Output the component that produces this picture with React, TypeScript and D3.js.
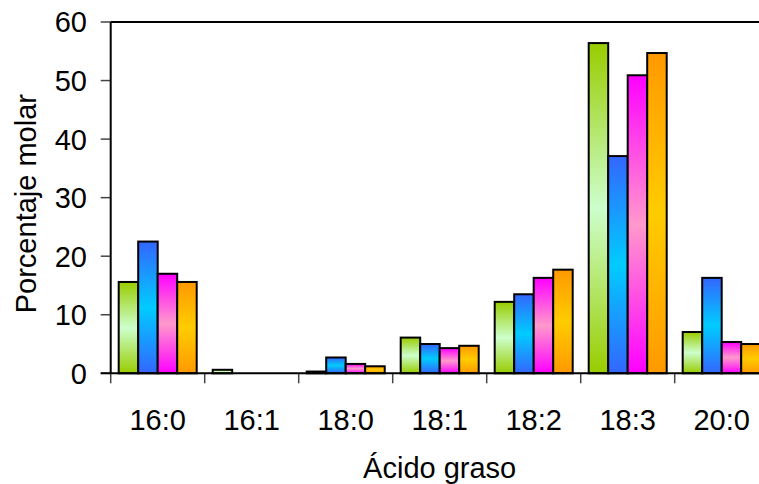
import React, { useEffect, useRef } from "react";
import * as d3 from "d3";

const categories = ["16:0", "16:1", "18:0", "18:1", "18:2", "18:3", "20:0"];
const seriesNames = ["s1", "s2", "s3", "s4"];
const greenVals = [15.6, 0.6, 0.3, 6.1, 12.2, 56.4, 7.05];
const blueVals = [22.5, 0, 2.7, 5.0, 13.5, 37.1, 16.3];
const pinkVals = [17.0, 0, 1.6, 4.3, 16.3, 50.9, 5.35];
const orangeVals = [15.6, 0, 1.2, 4.7, 17.7, 54.7, 5.0];
const yTicks = [0, 10, 20, 30, 40, 50, 60];

// gradient stops: [edge colour, middle colour]
const gradients = [
  ["#99cc00", "#ccffcc"],
  ["#3366ff", "#00ccff"],
  ["#ff00ff", "#ff99cc"],
  ["#ff9900", "#ffcc00"],
];

export default function App() {
  const svgRef = useRef<SVGSVGElement | null>(null);

  useEffect(() => {
    const svg = svgRef.current;
    if (!svg) return;
    const W = 759;
    const H = 484;
    const M = { l: 110.7, t: 22, b: 373.3 };
    const step = 94;

    const sel = d3.select(svg);
    sel.selectAll("*").remove();

    const values = [greenVals, blueVals, pinkVals, orangeVals];
    const rows = categories.map((c, i) => ({
      cat: c,
      vals: values.map((v, k) => ({ key: seriesNames[k], k, v: v[i] })),
    }));

    const x = d3
      .scaleBand<string>()
      .domain(categories)
      .range([M.l, M.l + step * categories.length])
      .padding(0);
    const xi = d3
      .scaleBand<string>()
      .domain(seriesNames)
      .range([0, x.bandwidth()])
      .paddingInner(0)
      .paddingOuter(0.41);
    const y = d3.scaleLinear().domain([0, 60]).range([M.b, M.t]);

    const defs = sel.append("defs");
    gradients.forEach(([edge, mid], k) => {
      const g = defs
        .append("linearGradient")
        .attr("id", `grad${k}`)
        .attr("x1", 0)
        .attr("y1", 0)
        .attr("x2", 0)
        .attr("y2", 1);
      g.append("stop").attr("offset", "0%").attr("stop-color", edge);
      g.append("stop").attr("offset", "50%").attr("stop-color", mid);
      g.append("stop").attr("offset", "100%").attr("stop-color", edge);
    });

    const font = "'Liberation Sans', Arial, sans-serif";

    // bars
    const groups = sel
      .append("g")
      .selectAll("g")
      .data(rows)
      .enter()
      .append("g")
      .attr("transform", (d) => `translate(${x(d.cat)},0)`);
    groups
      .selectAll("rect")
      .data((d) => d.vals)
      .enter()
      .append("rect")
      .attr("x", (d) => xi(d.key)!)
      .attr("y", (d) => y(d.v))
      .attr("width", xi.bandwidth())
      .attr("height", (d) => y(0) - y(d.v))
      .attr("fill", (d) => `url(#grad${d.k})`)
      .attr("stroke", "#000")
      .attr("stroke-width", 2);

    // y ticks and labels
    const yg = sel.append("g");
    yg.selectAll("line")
      .data(yTicks)
      .enter()
      .append("line")
      .attr("x1", M.l - 10)
      .attr("x2", M.l)
      .attr("y1", (d) => y(d))
      .attr("y2", (d) => y(d))
      .attr("stroke", "#444")
      .attr("stroke-width", 1.5);
    yg.selectAll("text")
      .data(yTicks)
      .enter()
      .append("text")
      .attr("x", 87)
      .attr("y", (d) => y(d))
      .attr("dy", "0.36em")
      .attr("text-anchor", "end")
      .attr("font-family", font)
      .attr("font-size", 29)
      .attr("fill", "#000")
      .text((d) => d);

    // x ticks and labels
    const bounds = d3.range(categories.length + 1).map((i) => M.l + i * step);
    sel
      .append("g")
      .selectAll("line")
      .data(bounds)
      .enter()
      .append("line")
      .attr("x1", (d) => d)
      .attr("x2", (d) => d)
      .attr("y1", M.b)
      .attr("y2", M.b + 10)
      .attr("stroke", "#444")
      .attr("stroke-width", 1.5);
    sel
      .append("g")
      .selectAll("text")
      .data(categories)
      .enter()
      .append("text")
      .attr("x", (d) => x(d)! + x.bandwidth() / 2)
      .attr("y", 430)
      .attr("text-anchor", "middle")
      .attr("font-family", font)
      .attr("font-size", 29)
      .attr("fill", "#000")
      .text((d) => d);

    // frame
    sel
      .append("line")
      .attr("x1", M.l)
      .attr("x2", W)
      .attr("y1", M.t)
      .attr("y2", M.t)
      .attr("stroke", "#000")
      .attr("stroke-width", 2);
    sel
      .append("line")
      .attr("x1", M.l)
      .attr("x2", M.l)
      .attr("y1", M.t)
      .attr("y2", M.b)
      .attr("stroke", "#000")
      .attr("stroke-width", 2);
    sel
      .append("line")
      .attr("x1", M.l - 10)
      .attr("x2", W)
      .attr("y1", M.b)
      .attr("y2", M.b)
      .attr("stroke", "#000")
      .attr("stroke-width", 2);

    // axis titles, centred on the full (clipped) plot width
    const plotMid = M.l + (step * categories.length) / 2;
    sel
      .append("text")
      .attr("x", plotMid)
      .attr("y", 478)
      .attr("text-anchor", "middle")
      .attr("font-family", font)
      .attr("font-size", 29)
      .attr("fill", "#000")
      .text("Ácido graso");
    sel
      .append("text")
      .attr("transform", `translate(36,${(M.t + M.b) / 2 + 6}) rotate(-90)`)
      .attr("text-anchor", "middle")
      .attr("font-family", font)
      .attr("font-size", 29)
      .attr("fill", "#000")
      .text("Porcentaje molar");

    sel.attr("width", W).attr("height", H);
  }, []);

  return (
    <svg
      ref={svgRef}
      width={759}
      height={484}
      style={{ position: "absolute", left: 0, top: 0, background: "#fff" }}
    />
  );
}
